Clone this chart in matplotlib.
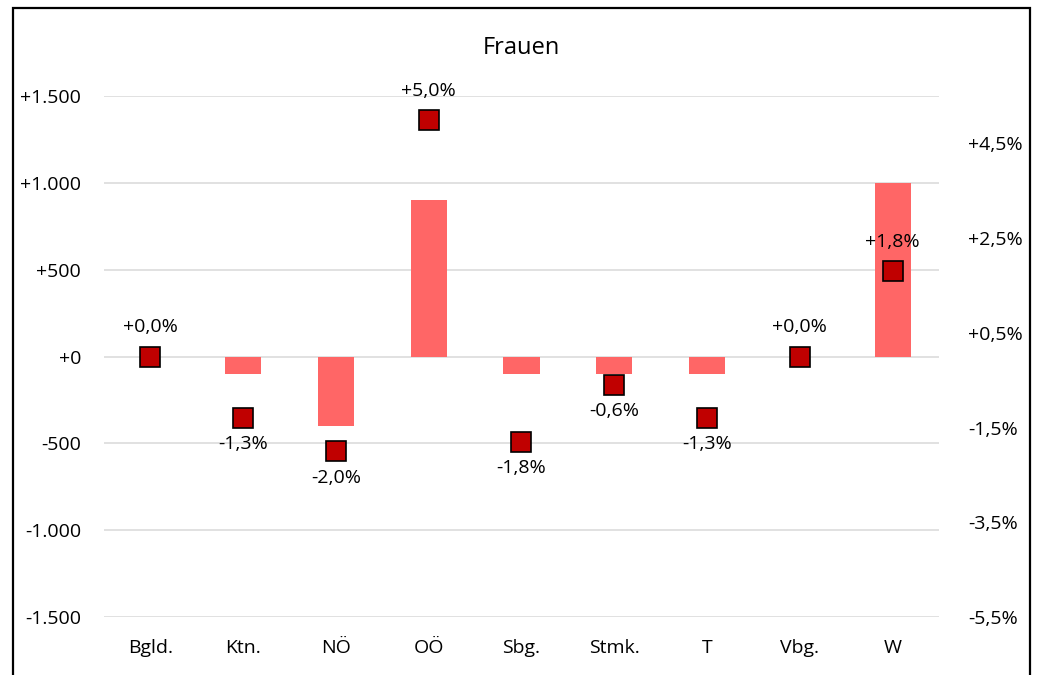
import matplotlib.pyplot as plt
from matplotlib.patches import Rectangle
from matplotlib.ticker import FuncFormatter, FixedLocator

plt.rcParams['font.family'] = ['Open Sans', 'DejaVu Sans']

regions = ['Bgld.', 'Ktn.', 'NÖ', 'OÖ', 'Sbg.', 'Stmk.', 'T', 'Vbg.', 'W']
abs_change = [0, -100, -400, 900, -100, -100, -100, 0, 1000]
pct_change = [0.0, -1.3, -2.0, 5.0, -1.8, -0.6, -1.3, 0.0, 1.8]
left_ticks = [-1500, -1000, -500, 0, 500, 1000, 1500]
right_ticks = [-5.5, -3.5, -1.5, 0.5, 2.5, 4.5]


def fmt_abs(v, pos=None):
    s = f"{abs(v):,.0f}".replace(',', '.')
    return ('-' if v < 0 else '+') + s


def fmt_pct(v, pos=None):
    s = f"{abs(v):.1f}".replace('.', ',') + '%'
    return ('-' if v < -1e-9 else '+') + s


fs = 14

fig = plt.figure(figsize=(10.43, 6.75), dpi=100)
ax = fig.add_axes([104 / 1043, (675 - 617) / 675, (939 - 104) / 1043, (617 - 96) / 675])
ax2 = ax.twinx()

x = list(range(len(regions)))
ax.bar(x, abs_change, width=0.39, color='#FF6666', zorder=2)
ax.set_xlim(-0.5, len(regions) - 0.5)
ax.set_ylim(-1500, 1500)
ax.yaxis.set_major_locator(FixedLocator(left_ticks))
ax.yaxis.set_major_formatter(FuncFormatter(fmt_abs))
ax.grid(axis='y', color='#D9D9D9', linewidth=1.1, zorder=0)
ax.set_axisbelow(True)
ax.set_xticks(x)
ax.set_xticklabels(regions)

ax2.plot(x, pct_change, linestyle='none', marker='s', markersize=14,
         markerfacecolor='#C00000', markeredgecolor='black', markeredgewidth=1.2, zorder=3)
ax2.set_ylim(-5.5, 5.5)
ax2.yaxis.set_major_locator(FixedLocator(right_ticks))
ax2.yaxis.set_major_formatter(FuncFormatter(fmt_pct))

for a in (ax, ax2):
    for sp in a.spines.values():
        sp.set_visible(False)
    a.tick_params(length=0, labelsize=fs, colors='black')
ax.tick_params(axis='y', pad=16.5)
ax.tick_params(axis='x', pad=16)
ax2.tick_params(axis='y', pad=21)

# labels above the marker for >= 0, below for negative values
for xi, p in zip(x, pct_change):
    off = 21 if p >= 0 else -19
    ax2.annotate(fmt_pct(p), (xi, p), xytext=(0, off), textcoords='offset points',
                 ha='center', va='center', fontsize=fs, zorder=4)

fig.text(521 / 1043, 1 - 48 / 675, 'Frauen', ha='center', va='center', fontsize=17)

fig.patches.append(Rectangle((13 / 1043, -0.05), (1030 - 13) / 1043, 1.05 - 8 / 675,
                             transform=fig.transFigure, fill=False,
                             edgecolor='black', linewidth=1.6))

fig.savefig('out.png', dpi=100)
